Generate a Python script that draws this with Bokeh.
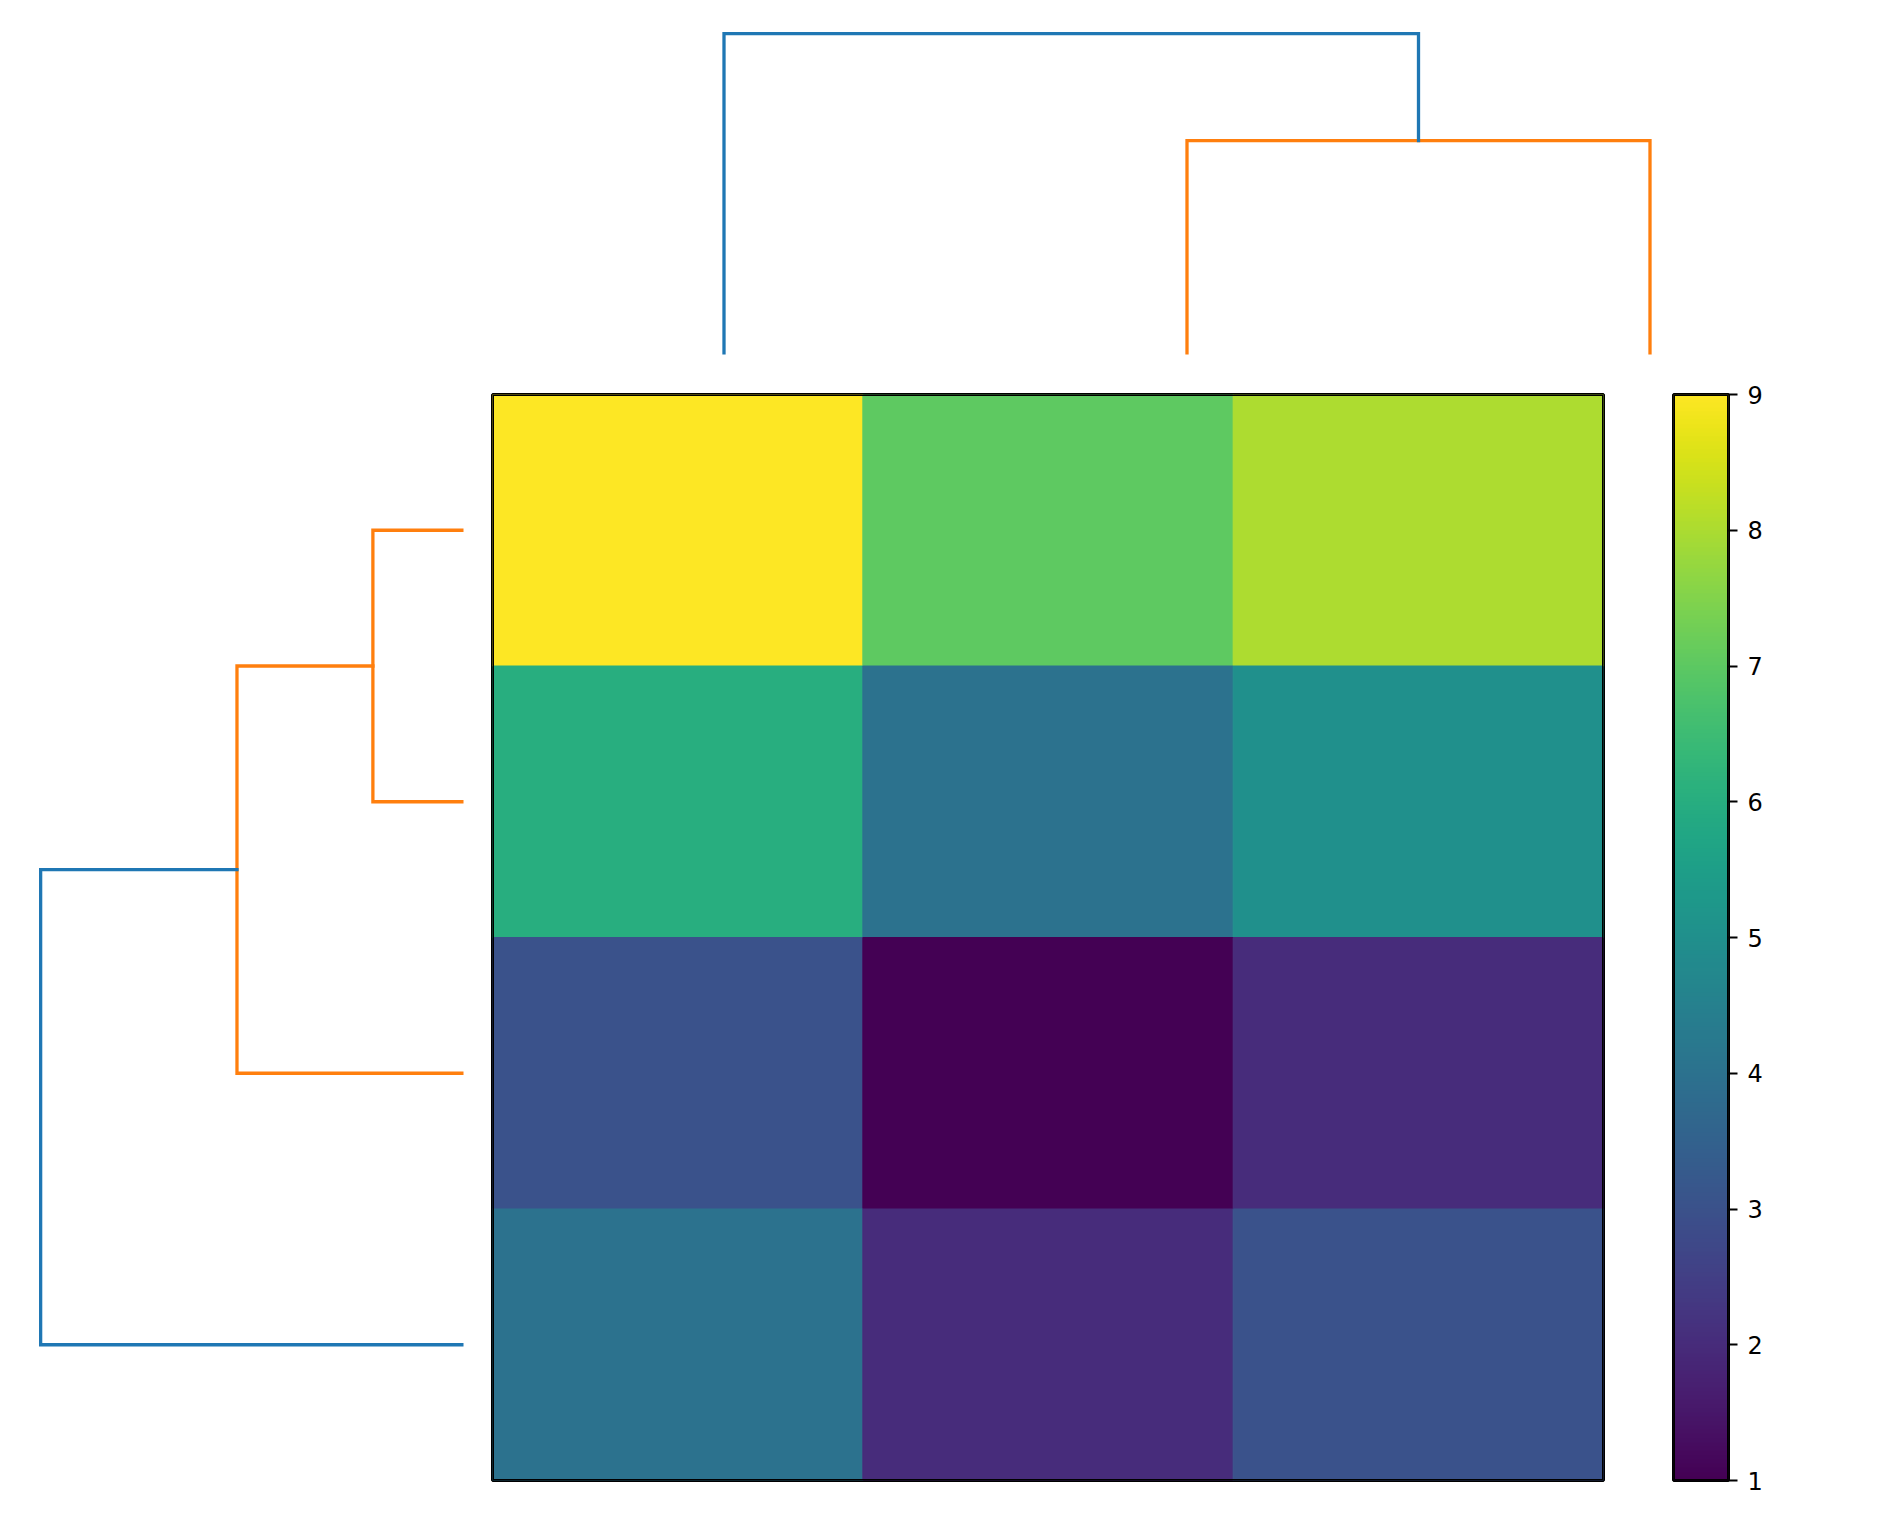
import numpy as np
from bokeh.plotting import figure
from bokeh.layouts import row, column
from bokeh.models import Range1d, LinearColorMapper, FixedTicker, ColumnDataSource
from bokeh.transform import linear_cmap
from bokeh.palettes import Viridis256
from bokeh.embed import file_html
from bokeh.resources import INLINE

# ---------------- data ----------------
heat_values = [
    [9, 7, 8],
    [6, 4, 5],
    [3, 1, 2],
    [4, 2, 3],
]
value_low, value_high = 1, 9
cbar_ticks = [1, 2, 3, 4, 5, 6, 7, 8, 9]

# row dendrogram (leaves in display order top->bottom: 0..3, clusters 4+)
row_merges = [(0, 1, 1.732), (4, 2, 4.330), (5, 3, 8.083)]
row_link_colors = ["#ff7f0e", "#ff7f0e", "#1f77b4"]
# column dendrogram (leaves left->right: 0..2, clusters 3+)
col_merges = [(1, 2, 2.0), (0, 3, 3.0)]
col_link_colors = ["#ff7f0e", "#1f77b4"]

LW = 3.3
BORDER = 3


def dendro_segments(merges, leaf_pos):
    pos = dict(enumerate(leaf_pos))
    hgt = {i: 0.0 for i in range(len(leaf_pos))}
    n = len(leaf_pos)
    P, H = [], []
    for k, (a, b, h) in enumerate(merges):
        P.append([pos[a], pos[a], pos[b], pos[b]])
        H.append([hgt[a], h, h, hgt[b]])
        pos[n + k] = (pos[a] + pos[b]) / 2.0
        hgt[n + k] = h
    return P, H


def bare(p):
    p.outline_line_color = None
    p.background_fill_color = "white"
    p.border_fill_color = "white"
    p.xgrid.visible = False
    p.ygrid.visible = False
    return p


def frame_border(p, x0, x1, y0, y1):
    # outline outside the frame + rectangle stroke inside -> centered border
    p.outline_line_color = "black"
    p.outline_line_width = BORDER
    p.outline_line_alpha = 1.0
    p.rect(x=[(x0 + x1) / 2], y=[(y0 + y1) / 2], width=[abs(x1 - x0)], height=[abs(y1 - y0)],
           fill_color=None, line_color="black", line_width=BORDER)


ncol = len(heat_values[0])
nrow = len(heat_values)

# ---------------- top dendrogram ----------------
col_leaf_pos = [10 * i + 5 for i in range(ncol)]
cP, cH = dendro_segments(col_merges, col_leaf_pos)
cmax = max(m[2] for m in col_merges)

top = figure(width=1900, height=358, output_backend="svg", toolbar_location=None,
             x_axis_location=None, y_axis_location=None,
             x_range=Range1d(0, 10 * ncol), y_range=Range1d(0, 1.05 * cmax),
             min_border_left=492, min_border_right=19, min_border_top=17, min_border_bottom=4)
bare(top)
top.multi_line(xs=cP, ys=cH, line_color=col_link_colors, line_width=LW,
               line_cap="square", line_join="miter")

# ---------------- left dendrogram ----------------
row_leaf_pos = [i + 0.5 for i in range(nrow)]
rP, rH = dendro_segments(row_merges, row_leaf_pos)
rmax = max(m[2] for m in row_merges)

BT, BB = 36, 36
left = figure(width=490, height=1158, output_backend="svg", toolbar_location=None,
              x_axis_location=None, y_axis_location=None,
              x_range=Range1d(1.05 * rmax, 0), y_range=Range1d(nrow, 0),
              min_border_left=19, min_border_right=27, min_border_top=BT, min_border_bottom=BB)
bare(left)
left.multi_line(xs=rH, ys=rP, line_color=row_link_colors, line_width=LW,
                line_cap="square", line_join="miter")

# ---------------- heatmap ----------------
xs, ys, vals = [], [], []
for r in range(nrow):
    for c in range(ncol):
        xs.append(c + 0.5)
        ys.append(r + 0.5)
        vals.append(heat_values[r][c])
src = ColumnDataSource(dict(x=xs, y=ys, v=vals))

hm = figure(width=1115, height=1158, output_backend="svg", toolbar_location=None,
            x_axis_location=None, y_axis_location=None,
            x_range=Range1d(0, ncol), y_range=Range1d(nrow, 0),
            min_border_left=2, min_border_right=2, min_border_top=BT, min_border_bottom=BB)
bare(hm)
cm = linear_cmap("v", Viridis256, value_low, value_high)
hm.rect(x="x", y="y", width=1, height=1, source=src, fill_color=cm,
        line_color=cm, line_width=1)
frame_border(hm, 0, ncol, 0, nrow)

# ---------------- colorbar ----------------
mapper = LinearColorMapper(palette=Viridis256, low=value_low, high=value_high)
grad = np.linspace(value_low, value_high, 512).reshape(-1, 1)

cb = figure(width=295, height=1158, output_backend="svg", toolbar_location=None,
            x_axis_location=None, y_axis_location="right",
            x_range=Range1d(0, 1), y_range=Range1d(value_low, value_high),
            min_border_left=68, min_border_right=172, min_border_top=BT, min_border_bottom=BB)
bare(cb)
cb.image(image=[grad], x=0, y=value_low, dw=1, dh=value_high - value_low, color_mapper=mapper)
frame_border(cb, 0, 1, value_low, value_high)
ax = cb.yaxis[0]
ax.ticker = FixedTicker(ticks=cbar_ticks)
ax.axis_line_color = None
ax.major_tick_in = 0
ax.major_tick_out = 9
ax.major_tick_line_width = 2
ax.major_tick_line_color = "black"
ax.minor_tick_line_color = None
ax.major_label_text_font = "DejaVu Sans"
ax.major_label_text_font_size = "24px"
ax.major_label_text_color = "black"
ax.major_label_standoff = 10

layout = column(top, row(left, hm, cb, spacing=0), spacing=0)

open("out.html", "w").write(file_html(layout, INLINE))
